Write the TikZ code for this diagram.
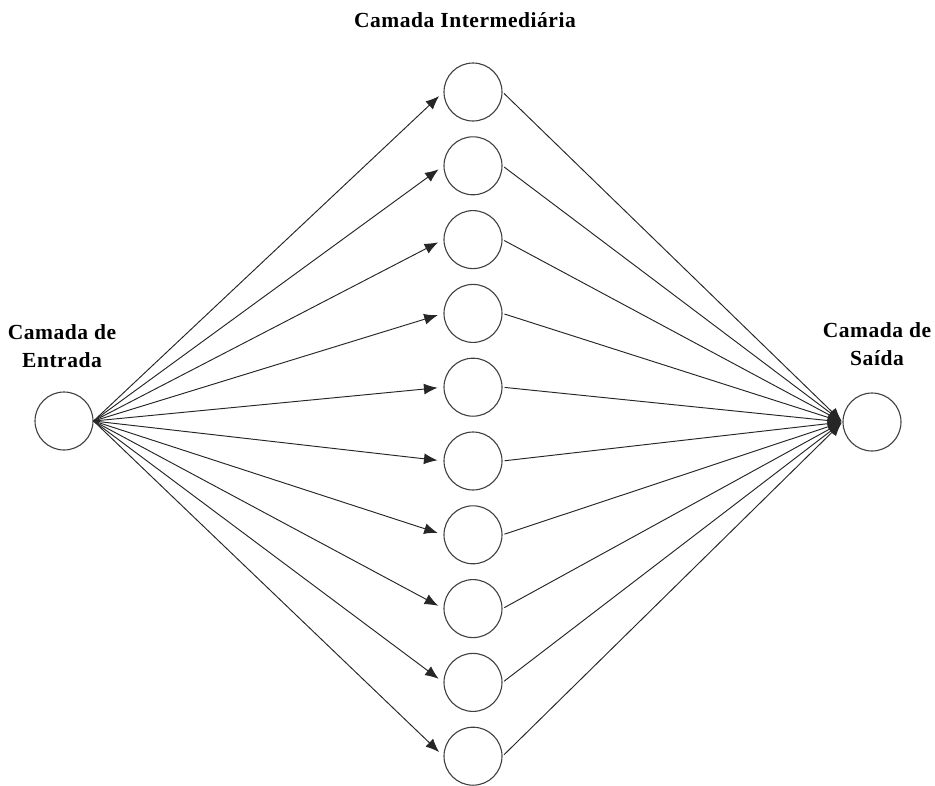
\documentclass[tikz,border=0pt]{standalone}
\usepackage{fontspec}
\setmainfont{Liberation Serif}
\newfontfamily\lblfont[LetterSpace=2.5]{Liberation Serif}
\usetikzlibrary{arrows.meta}
\begin{document}
\begin{tikzpicture}[x=1pt,y=-1pt,
  neuron/.style={circle,draw=black!75,line width=1.1pt,minimum size=58pt,inner sep=0pt,fill=white},
  conn/.style={line width=0.95pt,draw=black!85},
  tip/.style={-{Latex[length=13.5pt,width=11pt]}},
  lbl/.style={font=\lblfont\bfseries\fontsize{21.5}{27.5}\selectfont,align=center,text=black}]
\useasboundingbox (0,0) rectangle (935,785);
\node[neuron] (in) at (64,421) {};
\node[neuron] (out) at (872,422) {};
\foreach \i in {0,...,9} {
  \node[neuron] (m\i) at (473,{92+\i*73.8}) {};
}
\foreach \i in {0,...,9} {
  \draw[conn,tip,shorten >=6pt] (in.east) -- (m\i.west);
  \draw[conn,tip,shorten <=2pt,shorten >=1pt] (m\i.east) -- (out.west);
}
\node[lbl] (t1) at (465,20) {Camada Intermediária};
\node[lbl] (t2) at (62,346) {Camada de\\Entrada};
\node[lbl] (t3) at (877,344) {Camada de\\Saída};
\end{tikzpicture}
\end{document}
